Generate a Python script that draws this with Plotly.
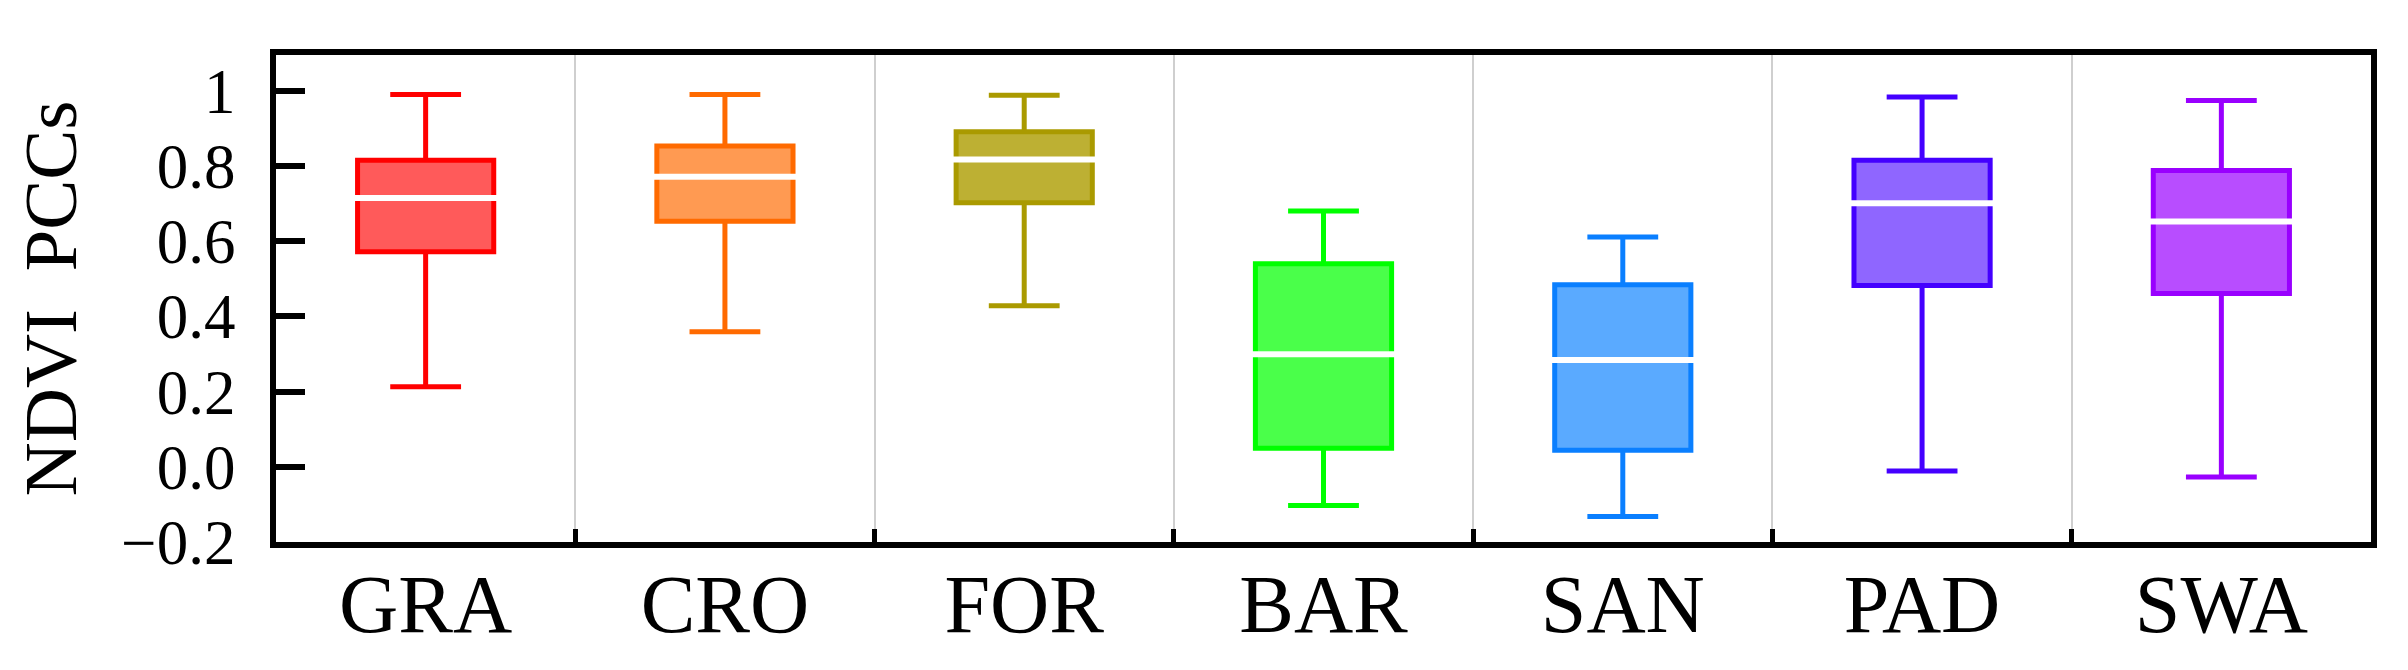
import plotly.graph_objects as go

categories = ["GRA", "CRO", "FOR", "BAR", "SAN", "PAD", "SWA"]
upper = [0.990, 0.990, 0.988, 0.680, 0.611, 0.983, 0.974]
q3 = [0.815, 0.853, 0.891, 0.540, 0.484, 0.815, 0.788]
median = [0.715, 0.771, 0.817, 0.299, 0.284, 0.701, 0.652]
q1 = [0.572, 0.653, 0.702, 0.049, 0.044, 0.482, 0.461]
lower = [0.213, 0.359, 0.428, -0.103, -0.132, -0.011, -0.027]

line_colors = ["#FF0000", "#FF6A00", "#AA9A00", "#00FF00", "#0A7FFF", "#4400FF", "#9900FF"]
fill_colors = ["#FF5A5A", "#FF9A52", "#BDB033", "#4AFF4A", "#5AAAFF", "#8F66FF", "#B84DFF"]

y_tickvals = [-0.2, 0.0, 0.2, 0.4, 0.6, 0.8, 1.0]
y_ticktext = ["\u22120.2", "0.0", "0.2", "0.4", "0.6", "0.8", "1"]

BOXGAP = 0.35
FONT = "Liberation Serif"

fig = go.Figure()
for i, cat in enumerate(categories):
    fig.add_trace(go.Box(
        x=[cat], q1=[q1[i]], median=[median[i]], q3=[q3[i]],
        lowerfence=[lower[i]], upperfence=[upper[i]],
        boxpoints=False, fillcolor=fill_colors[i],
        line=dict(color=line_colors[i], width=5),
        whiskerwidth=0.52, showlegend=False, name=cat,
    ))

half = (1 - BOXGAP) / 2
shapes = []
for i, m in enumerate(median):
    shapes.append(dict(type="line", xref="x", yref="y",
                       x0=i - half, x1=i + half, y0=m, y1=m,
                       line=dict(color="white", width=6), layer="above"))

# page body has an 8px default margin, so the figure is sized to fit inside it
fig.update_layout(
    width=2400, height=662,
    margin=dict(l=268, r=37, t=47, b=128),
    plot_bgcolor="white", paper_bgcolor="white",
    boxgap=BOXGAP,
    shapes=shapes,
    font=dict(family=FONT, color="black"),
)
fig.update_xaxes(
    type="category", categoryorder="array", categoryarray=categories,
    tickson="boundaries", ticks="inside", ticklen=13, tickwidth=5, tickcolor="black",
    showgrid=True, gridcolor="#CFCFCF", gridwidth=2,
    showline=True, linecolor="black", linewidth=6, mirror=True,
    tickfont=dict(family=FONT, size=82, color="black"),
    ticklabelstandoff=-14, automargin=False,
)
fig.update_yaxes(
    range=[-0.2, 1.095], tickvals=y_tickvals, ticktext=y_ticktext,
    ticks="inside", ticklen=29, tickwidth=6, tickcolor="black",
    showgrid=False, zeroline=False,
    showline=True, linecolor="black", linewidth=6, mirror=True,
    tickfont=dict(family=FONT, size=63, color="black"),
    ticklabelstandoff=22, automargin=False,
    title=dict(text="NDVI  PCCs", font=dict(family=FONT, size=75, color="black"), standoff=22),
)

fig.write_html("out.html")
